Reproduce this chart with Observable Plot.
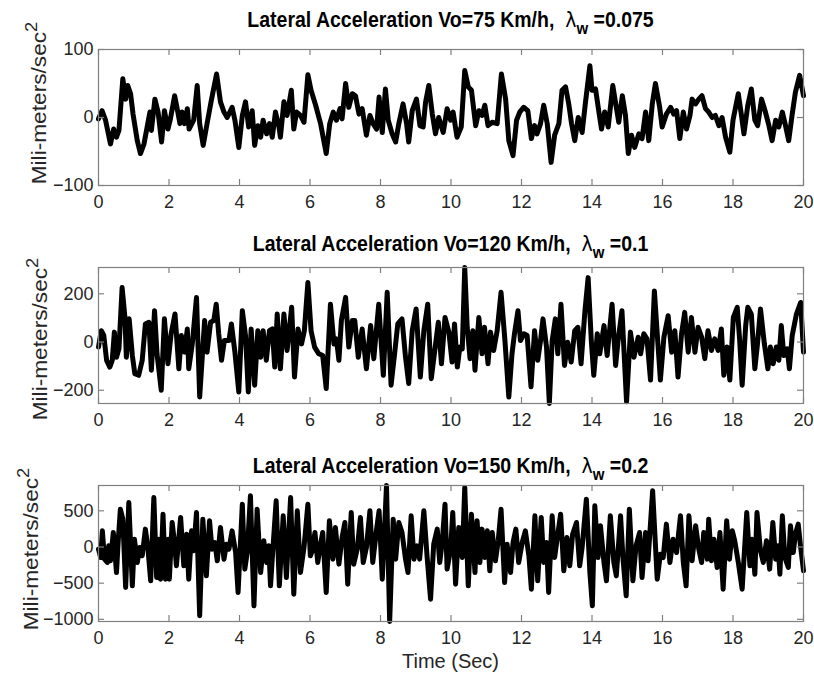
<!DOCTYPE html>
<html><head><meta charset="utf-8">
<script src="https://cdn.jsdelivr.net/npm/d3@7"></script>
<script src="https://cdn.jsdelivr.net/npm/@observablehq/plot@0.6"></script>
<style>
body{margin:0;background:#fff;}
#chart{position:relative;width:814px;height:675px;overflow:hidden;}
#chart > div{position:absolute;left:0;}
</style>
</head><body><div id="chart"></div>
<script>
// [time (s), lateral acceleration (mm/s^2)]
const panel1Series = [
[0.00,-2],[0.10,10],[0.20,-4],[0.34,-39],[0.43,-17],[0.51,-29],[0.58,-19],[0.69,57],[0.77,27],[0.83,47],[0.91,35],[0.98,5],[1.10,-34],[1.19,-53],[1.29,-39],[1.38,-14],[1.46,8],[1.50,-19],[1.60,27],[1.69,8],[1.79,-36],[1.87,10],[1.97,-17],[2.04,-2],[2.16,32],[2.25,8],[2.31,-9],[2.37,8],[2.44,-9],[2.52,13],[2.57,-17],[2.70,-4],[2.80,47],[2.87,-9],[2.97,-41],[3.08,-9],[3.20,25],[3.35,64],[3.46,23],[3.56,8],[3.65,0],[3.79,15],[3.87,-4],[3.98,-44],[4.08,3],[4.17,23],[4.26,-14],[4.36,10],[4.43,-41],[4.52,-12],[4.60,-29],[4.67,-4],[4.77,-24],[4.85,-9],[4.93,-29],[5.02,8],[5.12,-14],[5.16,-29],[5.26,23],[5.35,3],[5.47,40],[5.54,-17],[5.62,8],[5.73,3],[5.83,-7],[5.94,63],[6.03,40],[6.16,18],[6.30,-9],[6.46,-53],[6.56,-9],[6.66,8],[6.75,-4],[6.85,13],[6.91,-2],[7.01,50],[7.10,15],[7.20,35],[7.29,32],[7.39,5],[7.48,13],[7.60,-26],[7.70,3],[7.79,-9],[7.89,-17],[7.96,30],[8.05,-22],[8.14,42],[8.22,-4],[8.33,-24],[8.43,-36],[8.52,-9],[8.64,20],[8.74,-9],[8.80,-36],[8.90,10],[9.02,27],[9.12,-12],[9.21,-14],[9.28,23],[9.37,47],[9.47,5],[9.56,-24],[9.65,0],[9.78,-22],[9.89,13],[9.99,-4],
[10.06,8],[10.17,-29],[10.29,-14],[10.39,69],[10.49,45],[10.58,40],[10.70,-12],[10.79,10],[10.88,3],[10.96,18],[11.05,-12],[11.17,-7],[11.31,-9],[11.43,64],[11.55,27],[11.64,-34],[11.76,-56],[11.86,-4],[11.95,8],[12.06,15],[12.18,10],[12.28,-31],[12.37,-12],[12.44,-24],[12.54,-9],[12.63,18],[12.73,-9],[12.84,-66],[12.94,-26],[13.06,-9],[13.15,40],[13.25,45],[13.34,20],[13.42,-9],[13.51,-34],[13.61,0],[13.72,-22],[13.81,20],[13.94,76],[14.00,40],[14.10,42],[14.19,10],[14.27,-17],[14.36,8],[14.46,-14],[14.59,47],[14.69,15],[14.76,-7],[14.86,32],[14.95,3],[15.03,-53],[15.12,-26],[15.21,-44],[15.33,-24],[15.42,-31],[15.52,8],[15.61,-34],[15.71,20],[15.80,50],[15.92,15],[15.99,-14],[16.11,5],[16.23,15],[16.32,5],[16.40,10],[16.49,-31],[16.59,8],[16.68,-17],[16.78,3],[16.84,27],[16.94,20],[17.03,27],[17.12,32],[17.22,13],[17.31,8],[17.41,0],[17.50,3],[17.60,-12],[17.69,0],[17.79,-29],[17.91,-51],[18.00,-4],[18.15,35],[18.24,3],[18.31,-24],[18.42,18],[18.52,42],[18.62,-4],[18.70,-12],[18.81,27],[18.92,8],[19.02,-12],[19.11,-34],[19.21,-4],[19.30,-14],[19.40,8],[19.49,-12],[19.58,-34],[19.68,5],[19.77,37],[19.89,62],[20.00,32]
];
const panel2Series = [
[0.00,-21],[0.08,47],[0.15,27],[0.23,-76],[0.32,-104],[0.39,-76],[0.45,41],[0.51,-63],[0.58,-28],[0.67,226],[0.75,102],[0.79,-63],[0.87,96],[0.96,-56],[1.03,-131],[1.14,-138],[1.24,-76],[1.33,75],[1.43,82],[1.50,-117],[1.59,130],[1.66,-49],[1.78,-200],[1.87,96],[1.97,-90],[2.06,34],[2.17,116],[2.28,-111],[2.35,27],[2.44,-42],[2.52,54],[2.56,-111],[2.66,-8],[2.78,185],[2.87,-228],[3.01,89],[3.08,-42],[3.18,82],[3.27,89],[3.34,157],[3.41,34],[3.49,-76],[3.57,6],[3.70,6],[3.77,75],[3.87,-42],[3.98,-207],[4.08,130],[4.17,27],[4.25,-207],[4.33,54],[4.43,-179],[4.52,47],[4.60,-63],[4.67,47],[4.76,-76],[4.85,47],[4.93,54],[5.00,-104],[5.07,116],[5.16,-111],[5.26,116],[5.35,-35],[5.48,144],[5.56,-145],[5.66,54],[5.76,-8],[5.84,47],[5.94,247],[6.03,47],[6.13,-21],[6.25,-49],[6.36,-56],[6.46,-193],[6.58,157],[6.68,-8],[6.75,13],[6.82,-76],[6.89,89],[7.01,185],[7.10,-21],[7.20,89],[7.27,89],[7.37,-63],[7.48,54],[7.60,-111],[7.72,68],[7.81,-69],[7.95,157],[8.08,-138],[8.19,206],[8.30,-179],[8.40,-49],[8.49,75],[8.61,96],[8.71,-63],[8.80,-172],[8.90,47],[9.01,137],[9.13,-145],[9.23,47],[9.34,157],[9.44,-152],[9.54,-35],[9.64,82],[9.73,-90],[9.83,102],
[9.94,41],[10.03,-83],[10.10,75],[10.18,-104],[10.25,-21],[10.32,-28],[10.39,309],[10.46,61],[10.54,-69],[10.62,47],[10.68,-117],[10.79,102],[10.88,-49],[10.95,61],[11.05,-90],[11.12,41],[11.21,-35],[11.31,47],[11.42,206],[11.53,6],[11.64,-228],[11.73,-49],[11.80,34],[11.90,130],[11.97,6],[12.07,34],[12.16,27],[12.27,-186],[12.37,47],[12.46,-76],[12.54,6],[12.61,96],[12.71,-21],[12.79,-255],[12.87,6],[12.96,96],[13.03,-49],[13.12,157],[13.22,-97],[13.31,-1],[13.41,-83],[13.51,47],[13.60,61],[13.69,-90],[13.80,130],[13.89,267],[13.98,6],[14.05,-138],[14.15,34],[14.22,-49],[14.34,68],[14.43,-56],[14.57,157],[14.67,-97],[14.74,6],[14.85,130],[14.98,-248],[15.09,41],[15.19,-63],[15.31,20],[15.38,-49],[15.47,34],[15.56,13],[15.66,-158],[15.77,212],[15.87,-8],[15.94,-158],[16.04,20],[16.16,109],[16.26,-42],[16.35,47],[16.44,-145],[16.54,34],[16.63,123],[16.73,-42],[16.82,102],[16.92,-42],[17.01,61],[17.11,20],[17.20,-69],[17.29,47],[17.39,-35],[17.48,13],[17.58,-35],[17.67,54],[17.74,-138],[17.83,-21],[17.91,-158],[18.01,102],[18.12,144],[18.19,6],[18.26,-179],[18.36,68],[18.42,144],[18.52,116],[18.62,-111],[18.69,-14],[18.78,137],[18.89,-8],[18.99,-111],[19.06,-21],[19.14,-90],[19.23,-21],[19.30,-76],[19.37,68],[19.44,-56],[19.54,-28],[19.60,-111],[19.68,27],[19.80,116],[19.92,164],[20.00,-42]
];
const panel3Series = [
[0.00,-30],[0.06,-145],[0.11,223],[0.17,-168],[0.25,-214],[0.29,16],[0.34,-191],[0.42,200],[0.46,-30],[0.51,-353],[0.56,85],[0.62,523],[0.69,385],[0.77,-560],[0.86,615],[0.96,-537],[1.02,108],[1.10,-214],[1.17,-7],[1.24,-122],[1.33,247],[1.40,-7],[1.48,-468],[1.57,684],[1.65,-422],[1.71,108],[1.76,-445],[1.83,454],[1.90,-445],[1.98,108],[2.01,-445],[2.09,339],[2.16,39],[2.21,-260],[2.33,408],[2.42,-260],[2.50,177],[2.56,-445],[2.64,223],[2.70,-53],[2.78,477],[2.87,-951],[2.96,385],[3.06,-399],[3.15,362],[3.22,-30],[3.30,62],[3.37,-191],[3.46,270],[3.56,-168],[3.63,39],[3.70,-30],[3.79,223],[3.89,-76],[3.96,-629],[4.08,592],[4.15,-306],[4.22,-76],[4.31,707],[4.41,-813],[4.50,523],[4.60,-353],[4.69,85],[4.77,-214],[4.83,16],[4.88,-537],[4.95,-7],[5.04,638],[5.13,-537],[5.24,431],[5.33,-422],[5.45,684],[5.54,-652],[5.64,500],[5.73,-353],[5.83,-7],[5.94,592],[6.01,-122],[6.06,-53],[6.14,200],[6.22,-214],[6.30,39],[6.36,200],[6.46,-629],[6.55,362],[6.65,-168],[6.72,270],[6.82,-237],[6.91,131],[6.99,339],[7.07,-514],[7.17,477],[7.24,-237],[7.34,-30],[7.43,408],[7.51,-214],[7.60,-7],[7.70,500],[7.78,-214],[7.89,247],[7.96,500],[8.05,-445],[8.17,850],[8.26,-1030],[8.36,385],[8.43,-168],[8.52,339],[8.61,200],[8.71,-168],[8.78,-353],[8.87,431],[8.95,-168],[9.04,16],[9.11,-168],[9.23,500],[9.32,-122],[9.42,-721],[9.51,39],[9.61,247],[9.68,-214],[9.75,62],[9.83,592],[9.89,-306],[9.99,-30],
[10.05,477],[10.13,-514],[10.22,270],[10.32,-145],[10.39,823],[10.49,-537],[10.58,454],[10.68,-353],[10.74,362],[10.82,-214],[10.88,247],[10.96,-145],[11.03,223],[11.10,-329],[11.17,200],[11.26,-191],[11.34,85],[11.42,523],[11.52,-491],[11.59,39],[11.69,-353],[11.76,62],[11.84,247],[11.92,-214],[12.02,62],[12.11,223],[12.21,-122],[12.28,-583],[12.38,431],[12.46,-468],[12.56,408],[12.63,-214],[12.71,62],[12.77,-629],[12.87,431],[12.94,-145],[13.01,108],[13.11,454],[13.20,-329],[13.29,131],[13.37,-260],[13.45,177],[13.56,339],[13.65,-260],[13.72,-7],[13.84,661],[13.94,-353],[14.01,-813],[14.08,569],[14.17,-145],[14.24,293],[14.34,-214],[14.41,-468],[14.52,431],[14.62,-214],[14.69,-399],[14.81,431],[14.88,-168],[14.97,-675],[15.06,523],[15.16,-468],[15.25,16],[15.35,200],[15.42,-422],[15.52,200],[15.59,-191],[15.72,776],[15.85,-445],[15.94,-99],[16.02,-145],[16.11,316],[16.21,-214],[16.30,108],[16.40,-76],[16.51,431],[16.59,-214],[16.67,-537],[16.75,431],[16.84,-191],[16.94,293],[17.03,-30],[17.11,-214],[17.17,200],[17.27,-168],[17.31,385],[17.39,-191],[17.46,108],[17.55,-283],[17.63,200],[17.72,-583],[17.82,362],[17.90,-168],[17.98,223],[18.05,85],[18.15,-214],[18.26,-583],[18.39,477],[18.48,-260],[18.54,108],[18.62,-376],[18.68,477],[18.78,-53],[18.86,-214],[18.95,85],[19.04,-306],[19.13,339],[19.21,-168],[19.28,16],[19.33,-376],[19.40,431],[19.47,-145],[19.57,-283],[19.63,293],[19.71,-76],[19.77,177],[19.85,316],[19.91,39],[20.00,-329]
];

const xTicks = [0,2,4,6,8,10,12,14,16,18,20];
const panel1YTicks = [-100,0,100];
const panel2YTicks = [-200,0,200];
const panel3YTicks = [-1000,-500,0,500];
const titles = ["Lateral Acceleration Vo=75 Km/h,", "Lateral Acceleration Vo=120 Km/h,", "Lateral Acceleration Vo=150 Km/h,"];
const lambdas = ["0.075", "0.1", "0.2"];
const yLabel = "Mili-meters/sec";
const xLabel = "Time (Sec)";

const FONT = "'Liberation Sans', Arial, Helvetica, sans-serif";
const AXIS = "#808080";
const TEXT = "#262626";
const fmt = d => d < 0 ? "\u2212" + Math.abs(d) : String(d);

const panels = [
  {series: panel1Series, yDomain: [-100, 100], yTicks: panel1YTicks, top: 0, height: 222, mt: 49, mb: 37, title: titles[0], lambda: lambdas[0], titleY: 27, labelX: 46, labelY: 103},
  {series: panel2Series, yDomain: null, yTicks: panel2YTicks, top: 222, height: 222, mt: 45, mb: 41, title: titles[1], lambda: lambdas[1], titleY: 29, labelX: 47, labelY: 117},
  {series: panel3Series, yDomain: null, yTicks: panel3YTicks, top: 444, height: 231, mt: 41, mb: 54, title: titles[2], lambda: lambdas[2], titleY: 29, labelX: 38, labelY: 105, xlabel: true}
];

const root = document.getElementById("chart");
const W = 814, ML = 98, MR = 11;

for (const p of panels) {
  const data = p.series.map(([t, v]) => ({t, v}));
  const dom = p.yDomain || d3.extent(data, d => d.v);
  const ph = p.height - p.mt - p.mb;
  const pw = W - ML - MR;
  const svg = Plot.plot({
    width: W, height: p.height,
    marginLeft: ML, marginRight: MR, marginTop: p.mt, marginBottom: p.mb,
    style: {fontFamily: FONT, fontSize: "18px", color: TEXT, background: "transparent", overflow: "visible"},
    x: {domain: [0, 20]},
    y: {domain: dom},
    marks: [
      Plot.line(data, {x: "t", y: "v", stroke: "black", strokeWidth: 5, strokeLinejoin: "round", strokeLinecap: "round"}),
      Plot.frame({stroke: AXIS, strokeWidth: 1.2}),
      Plot.tickX(xTicks, {x: d => d, stroke: AXIS, strokeWidth: 1.2, insetTop: ph - 6}),
      Plot.tickX(xTicks, {x: d => d, stroke: AXIS, strokeWidth: 1.2, insetBottom: ph - 6}),
      Plot.tickY(p.yTicks, {y: d => d, stroke: AXIS, strokeWidth: 1.2, insetRight: pw - 6}),
      Plot.tickY(p.yTicks, {y: d => d, stroke: AXIS, strokeWidth: 1.2, insetLeft: pw - 6}),
      Plot.axisX(xTicks, {tickSize: 0, tickPadding: 10, label: null, tickFormat: fmt, fill: TEXT}),
      Plot.axisY(p.yTicks, {tickSize: 0, tickPadding: 5, label: null, tickFormat: fmt, fill: TEXT})
    ]
  });
  const s = d3.select(svg);
  // title (slightly tall, condensed look of the original)
  const t = s.append("text")
    .attr("transform", `translate(${ML + pw / 2},${p.titleY}) scale(1,1.12)`)
    .attr("text-anchor", "middle")
    .attr("font-family", FONT).attr("font-size", 19.5).attr("font-weight", "bold")
    .attr("fill", "#000").style("white-space", "pre");
  t.append("tspan").text(p.title + "  ");
  t.append("tspan").attr("font-weight", "normal").attr("font-family", "'DejaVu Sans', sans-serif").attr("font-size", 19).text("\u03BB");
  t.append("tspan").attr("dy", 6).attr("font-size", 15).text("w");
  t.append("tspan").attr("dy", -6).text(" =" + p.lambda);
  // y label
  const yl = s.append("text")
    .attr("transform", `translate(${p.labelX},${p.labelY}) rotate(-90) scale(1.08,1)`)
    .attr("text-anchor", "middle")
    .attr("font-family", FONT).attr("font-size", 21).attr("fill", TEXT);
  yl.append("tspan").text(yLabel);
  yl.append("tspan").attr("dy", -9).attr("font-size", 17).text("2");
  if (p.xlabel) {
    s.append("text")
      .attr("x", ML + pw / 2).attr("y", 224)
      .attr("text-anchor", "middle")
      .attr("font-family", FONT).attr("font-size", 20).attr("fill", TEXT)
      .text(xLabel);
  }
  const wrap = document.createElement("div");
  wrap.style.top = p.top + "px";
  wrap.appendChild(svg);
  root.appendChild(wrap);
}
</script>
</body></html>
